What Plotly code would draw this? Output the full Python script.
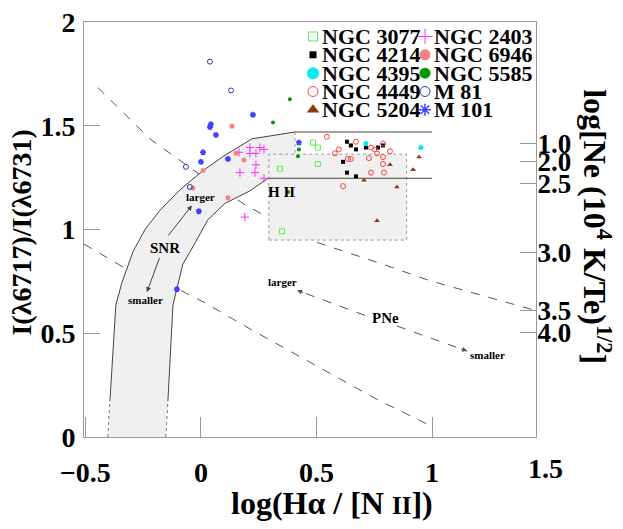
import plotly.graph_objects as go

# ---- galaxy samples: x = log(Ha/[NII]), y = I(6717)/I(6731) ----
ngc3077_x = [0.342, 0.351, 0.485, 0.506, 0.506]
ngc3077_y = [1.293, 0.991, 1.419, 1.395, 1.316]

ngc4214_x = [0.632, 0.649, 0.671, 0.714, 0.766, 0.788, 0.615, 0.632, 0.671]
ngc4214_y = [1.423, 1.405, 1.386, 1.395, 1.395, 1.405, 1.326, 1.274, 1.256]

ngc4395_x = [0.714, 0.952]
ngc4395_y = [1.414, 1.395]

ngc4449_x = [0.545, 0.597, 0.580, 0.636, 0.649, 0.671, 0.727, 0.736, 0.753,
             0.762, 0.788, 0.818, 0.788, 0.788, 0.736, 0.792, 0.615]
ngc4449_y = [1.447, 1.386, 1.367, 1.340, 1.340, 1.423, 1.344, 1.395, 1.386,
             1.367, 1.414, 1.377, 1.349, 1.316, 1.274, 1.274, 1.209]

ngc5204_x = [0.818, 0.944, 0.918, 0.706, 0.848, 0.762]
ngc5204_y = [1.312, 1.349, 1.288, 1.237, 1.205, 1.042]

ngc2403_x = [0.165, 0.212, 0.255, 0.273, 0.212, 0.238, 0.238, 0.169, 0.234, 0.273, 0.190]
ngc2403_y = [1.372, 1.395, 1.395, 1.386, 1.367, 1.367, 1.312, 1.274, 1.274, 1.247, 1.060]

ngc6946_x = [0.134, 0.152, 0.186, 0.009, -0.035, 0.117]
ngc6946_y = [1.498, 1.367, 1.335, 1.284, 1.200, 1.153]

ngc5585_x = [0.385, 0.312, 0.424, 0.420, 0.377]
ngc5585_y = [1.628, 1.516, 1.386, 1.353, 1.181]

m81_x = [0.039, 0.130, -0.065, -0.048]
m81_y = [1.809, 1.670, 1.302, 1.205]

m101_x = [0.225, 0.043, 0.039, 0.065, 0.009, 0.000, 0.117, -0.009, 0.424, -0.104]
m101_y = [1.553, 1.507, 1.493, 1.456, 1.372, 1.326, 1.340, 1.088, 1.419, 0.712]

# ---- model regions ----
snr_outer_x = [-0.394, -0.368, -0.342, -0.294, -0.242, -0.177, -0.091, 0.009, 0.104, 0.221, 0.407]
snr_outer_y = [0.172, 0.637, 0.744, 0.893, 1.000, 1.093, 1.191, 1.284, 1.358, 1.437, 1.470]
snr_inner_x = [-0.143, -0.121, -0.104, -0.078, -0.035, 0.030, 0.104, 0.212, 0.290]
snr_inner_y = [0.172, 0.637, 0.716, 0.833, 0.916, 1.047, 1.126, 1.186, 1.247]
snr_foot_x = [-0.403, -0.152]
hii_upper_y = 1.470
hii_lower_y = 1.247
hii_end_x = 1.0
hii_box_x = [0.294, 0.890]
hii_box_y = [0.949, 1.363]

curve1_x = [-0.446, -0.221, -0.035, 0.195, 0.472, 0.775, 0.991, 1.381, 1.450]
curve1_y = [1.684, 1.437, 1.288, 1.116, 0.949, 0.837, 0.753, 0.628, 0.609]
curve2_x = [-0.506, -0.329, -0.104, 0.017, 0.212, 0.762, 1.000]
curve2_y = [0.930, 0.814, 0.716, 0.647, 0.521, 0.181, 0.051]

# right axis: log Ne
ne_tickvals = [1.414, 1.326, 1.223, 0.888, 0.609, 0.502]
ne_ticktext = ['1.0', '2.0', '2.5', '3.0', '3.5', '4.0']

SERIF = 'Liberation Serif'
LINE = '#444444'

fig = go.Figure()

# dashed model curves (partly hidden by shaded regions)
for cx, cy in [(curve1_x, curve1_y), (curve2_x, curve2_y)]:
    fig.add_trace(go.Scatter(x=cx, y=cy, mode='lines',
                             line=dict(color='#555555', width=1, dash='dash'),
                             hoverinfo='skip', showlegend=False))

# SNR band fill
band_x = [snr_foot_x[0]] + snr_outer_x + [snr_outer_x[-1], snr_inner_x[-1]] + snr_inner_x[::-1] + [snr_foot_x[1]]
band_y = [0] + snr_outer_y + [hii_lower_y, hii_lower_y] + snr_inner_y[::-1] + [0]
fig.add_trace(go.Scatter(x=band_x, y=band_y, fill='toself', fillcolor='#f0f0f0',
                         mode='lines', line=dict(width=0), hoverinfo='skip', showlegend=False))

# HII box
bx = [hii_box_x[0], hii_box_x[1], hii_box_x[1], hii_box_x[0], hii_box_x[0]]
by = [hii_box_y[0], hii_box_y[0], hii_box_y[1], hii_box_y[1], hii_box_y[0]]
fig.add_trace(go.Scatter(x=bx, y=by, fill='toself', fillcolor='#f0f0f0', mode='lines',
                         line=dict(color='#999999', width=1, dash='dot'),
                         hoverinfo='skip', showlegend=False))

# band boundaries
fig.add_trace(go.Scatter(x=snr_outer_x + [hii_end_x], y=snr_outer_y + [hii_upper_y], mode='lines',
                         line=dict(color=LINE, width=1), hoverinfo='skip', showlegend=False))
fig.add_trace(go.Scatter(x=snr_inner_x + [hii_end_x], y=snr_inner_y + [hii_lower_y], mode='lines',
                         line=dict(color=LINE, width=1), hoverinfo='skip', showlegend=False))
for fx, cx, cy in [(snr_foot_x[0], snr_outer_x[0], snr_outer_y[0]),
                   (snr_foot_x[1], snr_inner_x[0], snr_inner_y[0])]:
    fig.add_trace(go.Scatter(x=[fx, cx], y=[0, cy], mode='lines',
                             line=dict(color='#777777', width=1, dash='dot'),
                             hoverinfo='skip', showlegend=False))
fig.add_trace(go.Scatter(x=[snr_outer_x[-1], snr_outer_x[-1]], y=[hii_upper_y, hii_box_y[1]], mode='lines',
                         line=dict(color='#999999', width=1, dash='dot'),
                         hoverinfo='skip', showlegend=False))

# galaxy series
series = [
    ('NGC 3077', ngc3077_x, ngc3077_y, dict(symbol='square-open', size=5, color='#55ee55', line=dict(width=1))),
    ('NGC 4214', ngc4214_x, ngc4214_y, dict(symbol='square', size=4, color='black')),
    ('NGC 4395', ngc4395_x, ngc4395_y, dict(symbol='circle', size=5, color='#00eeee')),
    ('NGC 4449', ngc4449_x, ngc4449_y, dict(symbol='circle-open', size=5, color='#ff4040', line=dict(width=1))),
    ('NGC 5204', ngc5204_x, ngc5204_y, dict(symbol='triangle-up', size=5, color='#8b3a10')),
    ('NGC 2403', ngc2403_x, ngc2403_y, dict(symbol='cross-thin-open', size=6, color='#ff30ff', line=dict(width=1, color='#ff30ff'))),
    ('NGC 6946', ngc6946_x, ngc6946_y, dict(symbol='circle', size=5, color='#f88080')),
    ('NGC 5585', ngc5585_x, ngc5585_y, dict(symbol='circle', size=4, color='#009900')),
    ('M 81', m81_x, m81_y, dict(symbol='circle-open', size=5, color='#3030c0', line=dict(width=1))),
    ('M 101', m101_x, m101_y, dict(symbol='asterisk-open', size=5, color='#4040ff', line=dict(width=1.5, color='#4040ff'))),
]
for name, sx, sy, mk in series:
    fig.add_trace(go.Scatter(x=sx, y=sy, mode='markers', name=name, marker=mk, showlegend=False))

# legend drawn in pixel space on hidden axes
leg_col_x = [313, 425]
leg_row_y0 = 22
leg_row_dy = 19
leg_sizes = [9, 7, 12, 10, 11, 11, 11, 11, 10, 10]
for i, (name, sx, sy, mk) in enumerate(series):
    col, row = divmod(i, 5)
    lx = leg_col_x[col]
    ly = leg_row_y0 + row * leg_row_dy
    m = dict(mk)
    m['size'] = leg_sizes[i]
    fig.add_trace(go.Scatter(x=[lx], y=[ly], mode='markers', marker=m, xaxis='x3', yaxis='y3',
                             hoverinfo='skip', showlegend=False))
    fig.add_annotation(x=lx + 7, y=ly, xref='x3', yref='y3', text=name, showarrow=False,
                       xanchor='left', yanchor='middle',
                       font=dict(family=SERIF, size=22, color='black', weight='bold'))

fig.add_trace(go.Scatter(x=[None], y=[None], yaxis='y2', showlegend=False, hoverinfo='skip'))

# region labels
labels = [
    ('H II', 0.350, 1.181, 15),
    ('SNR', -0.156, 0.912, 15),
    ('larger', -0.004, 1.158, 11),
    ('smaller', -0.238, 0.660, 11),
    ('PNe', 0.797, 0.572, 15),
    ('larger', 0.355, 0.749, 11),
    ('smaller', 1.238, 0.395, 11),
]
for t, lx, ly, fs in labels:
    fig.add_annotation(x=lx, y=ly, text=t, showarrow=False, xanchor='center', yanchor='middle',
                       font=dict(family=SERIF, size=fs, color='black', weight='bold'))

# SNR arrows
for (x0, y0), (x1, y1) in [((-0.147, 0.963), (-0.039, 1.116)), ((-0.177, 0.870), (-0.234, 0.698))]:
    fig.add_annotation(x=x1, y=y1, ax=x0, ay=y0, xref='x', yref='y', axref='x', ayref='y',
                       showarrow=True, arrowhead=2, arrowsize=1, arrowwidth=1, arrowcolor=LINE, text='')

# PNe arrows (dashed shaft + head)
for (x0, y0), (x1, y1), (hx, hy) in [((0.710, 0.586), (0.416, 0.707), (7.5, 2.9)),
                                     ((0.848, 0.535), (1.152, 0.414), (-7.5, -2.8))]:
    fig.add_trace(go.Scatter(x=[x0, x1], y=[y0, y1], mode='lines',
                             line=dict(color='#555555', width=1, dash='dash'),
                             hoverinfo='skip', showlegend=False))
    fig.add_annotation(x=x1, y=y1, ax=hx, ay=hy, xref='x', yref='y',
                       showarrow=True, arrowhead=2, arrowsize=1, arrowwidth=1, arrowcolor='#555555', text='')

# axis titles
fig.add_annotation(x=-0.139, y=0.493, xref='paper', yref='paper', text='I(λ6717)/I(λ6731)',
                   textangle=-90, showarrow=False, xanchor='center', yanchor='middle',
                   font=dict(family=SERIF, size=28, color='black', weight='bold'))
fig.add_annotation(x=0.549, y=-0.158, xref='paper', yref='paper',
                   text="log(Hα / [N <span style='font-size:25px'>II</span>])",
                   showarrow=False, xanchor='center', yanchor='middle',
                   font=dict(family=SERIF, size=32, color='black', weight='bold'))
fig.add_annotation(x=1.135, y=0.508, xref='paper', yref='paper',
                   text='log[Ne (10<sup>4</sup> K/Te)<sup>1/2</sup>]',
                   textangle=90, showarrow=False, xanchor='center', yanchor='middle',
                   font=dict(family=SERIF, size=32, color='black', weight='bold'))
fig.add_annotation(x=1.022, y=-0.077, xref='paper', yref='paper', text='1.5',
                   xanchor='center', yanchor='middle',
                   showarrow=False, font=dict(family=SERIF, size=28, color='black', weight='bold'))

tickfont = dict(family=SERIF, size=28, color='black', weight='bold')
fig.update_layout(
    width=623, height=529,
    margin=dict(l=84, r=87, t=7, b=92),
    plot_bgcolor='white', paper_bgcolor='white',
    showlegend=False,
    xaxis=dict(range=[-0.506, 1.450], tickvals=[-0.5, 0, 0.5, 1], ticktext=['−0.5', '0', '0.5', '1'],
               ticks='inside', ticklen=20, tickcolor='#999999', showgrid=False, zeroline=False,
               showline=True, linecolor='#999999', mirror=True, tickfont=tickfont,
               ticklabelstandoff=10),
    yaxis=dict(range=[0, 2], tickvals=[0, 0.5, 1, 1.5, 2], ticktext=['0', '0.5', '1', '1.5', '2'],
               ticks='inside', ticklen=16, tickcolor='#999999', showgrid=False, zeroline=False,
               showline=True, linecolor='#999999', mirror=True, tickfont=tickfont,
               ticklabelstandoff=2, ticklabeloverflow='allow'),
    yaxis2=dict(range=[0, 2], overlaying='y', side='right', tickvals=ne_tickvals, ticktext=ne_ticktext,
                ticks='inside', ticklen=16, tickcolor='#999999', showgrid=False, zeroline=False,
                showline=True, linecolor='#999999', tickfont=dict(family=SERIF, size=27, color='black', weight='bold'),
                ticklabelstandoff=-5),
    xaxis3=dict(range=[84, 536], overlaying='x', visible=False),
    yaxis3=dict(range=[437, 7], overlaying='y', visible=False),
)

fig.write_html('out.html', config={'displayModeBar': False},
               post_script="document.body.style.margin='0';document.body.style.overflow='hidden';")
